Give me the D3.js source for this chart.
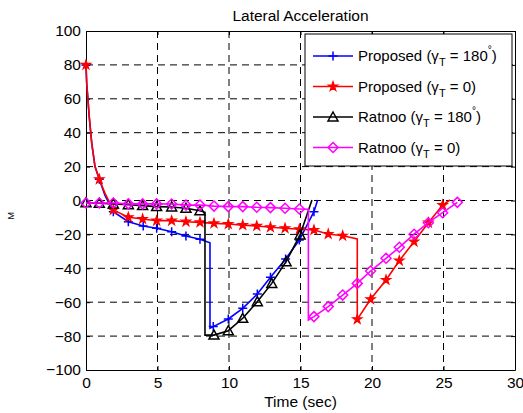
<!DOCTYPE html>
<html>
<head>
<meta charset="utf-8">
<script src="https://cdn.jsdelivr.net/npm/d3@7"></script>
<style>
  body { margin: 0; background: #fff; }
  text { font-family: "Liberation Sans", Arial, sans-serif; }
</style>
</head>
<body>
<div id="chart"></div>
<script>
// Chart data: [time, value, marker(1/0)]
const xTicks = [0, 5, 10, 15, 20, 25, 30];
const yTicks = [-100, -80, -60, -40, -20, 0, 20, 40, 60, 80, 100];

const proposed180 = [
  [0, 80, 1], [0.05, 69, 0], [0.23, 49, 0], [0.4, 34, 0], [0.63, 20, 0], [0.93, 12.5, 1],
  [1.33, 3, 0], [1.91, -6.6, 1], [2.96, -12.5, 1], [4.0, -15, 1], [4.94, -16.4, 1],
  [5.99, -18.4, 1], [6.99, -20.9, 1], [7.97, -22.9, 1], [8.67, -24.9, 0],
  [8.67, -75.4, 0], [8.9, -74.4, 1], [9.95, -69.9, 1], [10.96, -63.6, 1], [11.98, -55.2, 1],
  [12.9, -45.3, 1], [13.96, -34.5, 1], [14.92, -23.3, 1], [15.94, -6.6, 1], [16.2, 0.3, 0]
];
const proposed0 = [
  [0, 80, 1], [0.05, 69, 0], [0.23, 49.4, 0], [0.4, 33.7, 0], [0.63, 20, 0], [0.93, 12.5, 1],
  [1.33, 4.2, 0], [1.91, -5.6, 1], [2.96, -9.9, 1], [3.96, -10.9, 1], [4.94, -11.9, 1],
  [5.99, -11.9, 1], [6.99, -12.5, 1], [7.97, -12.9, 1], [8.95, -13.5, 1], [9.95, -13.9, 1],
  [10.96, -14.5, 1], [11.94, -15, 1], [12.9, -15.8, 1], [13.92, -16.4, 1], [14.92, -17, 1],
  [15.94, -17.4, 1], [16.94, -19.8, 1], [17.95, -20.8, 1], [18.97, -22.7, 0],
  [18.97, -70.1, 1], [19.9, -58.3, 1], [20.98, -46.9, 1], [21.91, -35.5, 1], [22.94, -24.3, 1],
  [23.94, -13.1, 1], [24.94, -2.7, 1], [25.45, 0.3, 0]
];
const ratnoo180 = [
  [0, -1.3, 1], [0.93, -1.6, 1], [1.91, -2, 1], [2.96, -2.5, 1], [3.96, -3, 1], [4.94, -3.6, 1],
  [5.99, -3.8, 1], [6.99, -4.6, 1], [7.97, -6, 1], [8.32, -7, 0], [8.32, -79.4, 0],
  [8.95, -79.4, 1], [9.95, -76.8, 1], [10.96, -69.5, 1], [11.98, -59.7, 1], [12.99, -48.9, 1],
  [13.99, -36.1, 1], [14.97, -20.3, 1], [15.8, 0.3, 0]
];
const ratnoo0 = [
  [0, -1.5, 1], [0.93, -1.5, 1], [1.91, -1.5, 1], [2.96, -2, 1], [3.96, -2, 1], [4.94, -2, 1],
  [5.99, -2.1, 1], [6.99, -2.7, 1], [7.97, -2.7, 1], [8.95, -3.3, 1], [9.95, -3.6, 1],
  [10.96, -3.6, 1], [11.94, -4, 1], [12.9, -4.2, 1], [13.92, -4.6, 1], [14.92, -5, 1],
  [15.55, -5.2, 0], [15.55, -70.5, 0], [15.94, -68.5, 1], [16.94, -62.6, 1], [17.95, -55.8, 1],
  [18.97, -48.9, 1], [19.9, -41.6, 1], [20.98, -34.1, 1], [21.91, -27.6, 1], [22.94, -19.9, 1],
  [23.94, -13.1, 1], [24.94, -7.2, 1], [25.97, -1.1, 1]
];

const seriesNames = ['Proposed', 'Proposed', 'Ratnoo', 'Ratnoo'];
const seriesAngles = ['180', '0', '180', '0'];
const seriesColors = ['#0000ff', '#ff0000', '#000000', '#ff00ff'];
const seriesMarkers = ['plus', 'star', 'triangle', 'diamond'];
const seriesData = [proposed180, proposed0, ratnoo180, ratnoo0];

const width = 523, height = 413;
const margin = { left: 86, right: 8, top: 31, bottom: 43 };

const svg = d3.select('#chart').append('svg')
  .attr('width', width)
  .attr('height', height);

const x = d3.scaleLinear().domain([0, 30]).range([margin.left, width - margin.right]);
const y = d3.scaleLinear().domain([-100, 100]).range([height - margin.bottom, margin.top]);

// Grid
const grid = svg.append('g');
grid.selectAll('.gx')
  .data(xTicks.slice(1, -1))
  .enter().append('line')
  .attr('x1', d => x(d)).attr('x2', d => x(d))
  .attr('y1', y(100)).attr('y2', y(-100))
  .attr('stroke', '#000').attr('stroke-width', 1)
  .attr('stroke-dasharray', '7,5');
grid.selectAll('.gy')
  .data(yTicks.slice(1, -1))
  .enter().append('line')
  .attr('x1', x(0)).attr('x2', x(30))
  .attr('y1', d => y(d)).attr('y2', d => y(d))
  .attr('stroke', '#000').attr('stroke-width', 1)
  .attr('stroke-dasharray', '7,5');

// Axes
svg.append('g')
  .attr('transform', `translate(0,${y(-100)})`)
  .call(d3.axisBottom(x).tickValues(xTicks).tickSizeInner(-4).tickSizeOuter(0).tickPadding(7));
svg.append('g')
  .attr('transform', `translate(${x(0)},0)`)
  .call(d3.axisLeft(y).tickValues(yTicks).tickSizeInner(-4).tickSizeOuter(0).tickPadding(5));
svg.append('g')
  .attr('transform', `translate(0,${y(100)})`)
  .call(d3.axisTop(x).tickValues(xTicks).tickSizeInner(-4).tickSizeOuter(0).tickFormat(''));
svg.append('g')
  .attr('transform', `translate(${x(30)},0)`)
  .call(d3.axisRight(y).tickValues(yTicks).tickSizeInner(-4).tickSizeOuter(0).tickFormat(''));
svg.selectAll('.domain').attr('stroke', '#000').attr('stroke-width', 1);
svg.selectAll('.tick line').attr('stroke', '#000');
svg.selectAll('.tick text').attr('font-size', 15.5).attr('fill', '#000')
  .attr('font-family', '"Liberation Sans", Arial, sans-serif');

// Title and labels
svg.append('text')
  .attr('x', (x(0) + x(30)) / 2).attr('y', 21)
  .attr('text-anchor', 'middle').attr('font-size', 15.5)
  .text('Lateral Acceleration');
svg.append('text')
  .attr('x', (x(0) + x(30)) / 2).attr('y', 407)
  .attr('text-anchor', 'middle').attr('font-size', 15.5)
  .text('Time (sec)');
svg.append('text')
  .attr('transform', `translate(14,${y(-9)}) rotate(-90)`)
  .attr('text-anchor', 'middle').attr('font-size', 9)
  .text('M');

// Marker drawing
function drawMarker(g, type, color) {
  if (type === 'plus') {
    g.append('path').attr('d', 'M-4.5,0H4.5M0,-4.5V4.5')
      .attr('stroke', color).attr('stroke-width', 1.5).attr('fill', 'none');
  } else if (type === 'star') {
    g.append('path').attr('d', d3.symbol(d3.symbolStar, 26)())
      .attr('fill', color).attr('stroke', color).attr('stroke-width', 1.2);
  } else if (type === 'triangle') {
    g.append('path').attr('d', 'M0,-5L5,4H-5Z')
      .attr('fill', 'none').attr('stroke', color).attr('stroke-width', 1.5);
  } else if (type === 'diamond') {
    g.append('path').attr('d', 'M0,-5L5,0L0,5L-5,0Z')
      .attr('fill', 'none').attr('stroke', color).attr('stroke-width', 1.5);
  }
}

const line = d3.line().x(d => x(d[0])).y(d => y(d[1]));

const plot = svg.append('g');
seriesData.forEach((data, i) => {
  plot.append('path')
    .datum(data)
    .attr('d', line)
    .attr('fill', 'none')
    .attr('stroke', seriesColors[i])
    .attr('stroke-width', 1.6);
  data.filter(d => d[2]).forEach(d => {
    const g = plot.append('g').attr('transform', `translate(${x(d[0])},${y(d[1])})`);
    drawMarker(g, seriesMarkers[i], seriesColors[i]);
  });
});

// Legend
const legend = svg.append('g').attr('transform', 'translate(305,34)');
legend.append('rect')
  .attr('width', 207).attr('height', 132)
  .attr('fill', '#fff').attr('stroke', '#000').attr('stroke-width', 1);
seriesNames.forEach((name, i) => {
  const ly = 22 + i * 30.5;
  legend.append('line')
    .attr('x1', 8).attr('x2', 48).attr('y1', ly).attr('y2', ly)
    .attr('stroke', seriesColors[i]).attr('stroke-width', 1.6);
  drawMarker(legend.append('g').attr('transform', `translate(28,${ly})`), seriesMarkers[i], seriesColors[i]);
  const t = legend.append('text')
    .attr('x', 53).attr('y', ly + 5).attr('font-size', 15);
  t.append('tspan').text(`${name} (γ`);
  t.append('tspan').attr('font-size', 11).attr('dy', 5).text('T');
  t.append('tspan').attr('dy', -5).text(` = ${seriesAngles[i]}`);
  if (seriesAngles[i] !== '0') {
    t.append('tspan').attr('font-size', 10).attr('dy', -8).text('°');
    t.append('tspan').attr('dy', 8).text(')');
  } else {
    t.append('tspan').text(')');
  }
});
</script>
</body>
</html>
